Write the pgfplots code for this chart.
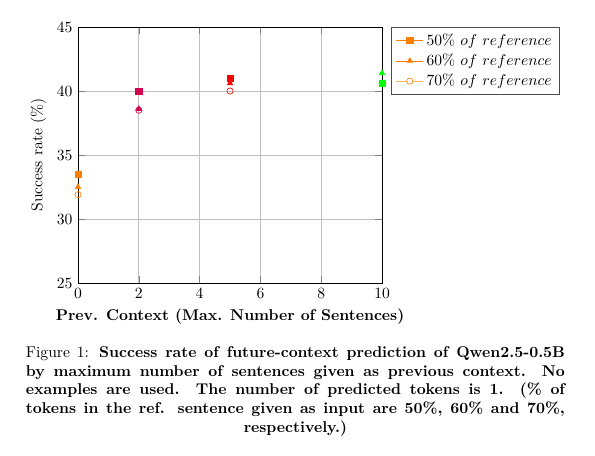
\documentclass[border=0pt]{standalone}
\usepackage{pgfplots}
\pgfplotsset{compat=1.18}
\definecolor{cA}{RGB}{255,128,0}
\definecolor{cB}{RGB}{210,0,80}
\definecolor{cC}{RGB}{255,0,0}
\definecolor{cD}{RGB}{0,255,0}
\pgfplotstableread{
x y c
0 33.5 a
2 40.0 b
5 41.0 c
10 40.6 d
}\fifty
\pgfplotstableread{
x y c
0 32.5 a
2 38.6 b
5 40.6 c
10 41.4 d
}\sixty
\pgfplotstableread{
x y c
0 31.9 a
2 38.5 b
5 40.0 c
10 40.6 d
}\seventy
\begin{document}
\begin{tikzpicture}
\begin{axis}[
  scale only axis, width=194.9pt, height=164.1pt,
  xmin=0, xmax=10, ymin=25, ymax=45,
  xtick={0,2,4,6,8,10}, ytick={25,30,35,40,45},
  grid=major,
  axis line style={black},
  xlabel={\textbf{Prev. Context (Max. Number of Sentences)}},
  ylabel={Success rate (\%)},
  legend style={at={(1.03,1)}, anchor=north west, draw=black!70},
  legend cell align=left,
  clip=false,
  scatter/classes={a={cA},b={cB},c={cC},d={cD}},
]
\addlegendimage{draw=cA, mark=square*, mark options={solid, draw=cA, fill=cA}}
\addlegendentry{50\% $of\ reference$}
\addlegendimage{draw=cA, mark=triangle*, mark options={solid, draw=cA, fill=cA}}
\addlegendentry{60\% $of\ reference$}
\addlegendimage{draw=cA!60, mark=*, mark options={solid, draw=cA, fill=white}}
\addlegendentry{70\% $of\ reference$}
\addplot[scatter, only marks, mark=square*, point meta=explicit symbolic, forget plot] table[x=x,y=y,meta=c] {\fifty};
\addplot[scatter, only marks, mark=triangle*, point meta=explicit symbolic, forget plot] table[x=x,y=y,meta=c] {\sixty};
\addplot[scatter, only marks, mark=o, point meta=explicit symbolic, forget plot,
  scatter/classes={a={mark=o,draw=cA},b={mark=o,draw=cB},c={mark=o,draw=cC},d={mark=o,draw=cD}}] table[x=x,y=y,meta=c] {\seventy};
\end{axis}
\path[use as bounding box] (-50pt,-110.9pt) rectangle (331.4pt,181.4pt);
\node[anchor=north, inner sep=0pt] at (139.4pt,-40.5pt)
{\parbox[t]{345.5pt}{\leftskip=0pt plus 1fil \rightskip=0pt plus -1fil \parfillskip=0pt plus 2fil
Figure 1: \textbf{Success rate of future-context prediction of Qwen2.5-0.5B by maximum number of sentences given as previous context.  No examples are used.  The number of predicted tokens is 1.  (\% of tokens in the ref.  sentence given as input are 50\%, 60\% and 70\%, respectively.)}\par}};
\end{tikzpicture}
\end{document}
